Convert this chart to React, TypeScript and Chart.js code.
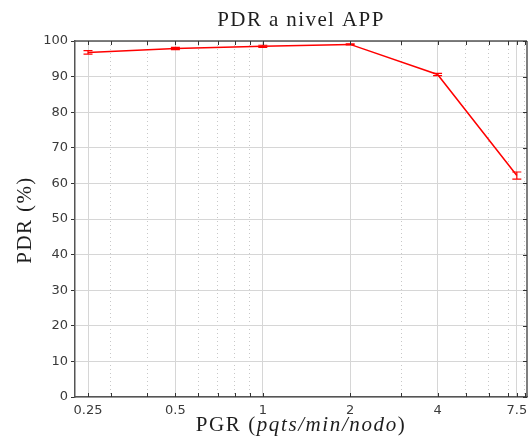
import React, { useEffect, useRef } from 'react';
import { Chart, registerables } from 'chart.js';

Chart.register(...registerables);

// ---- data ----
const xValues = [0.25, 0.5, 1, 2, 4, 7.5];
const pdrValues = [96.8, 97.9, 98.5, 99.05, 90.6, 62.2];
const pdrErrors = [0.5, 0.3, 0.3, 0.15, 0.3, 1.0];
const majorTicks = [0.25, 0.5, 1, 2, 4, 7.5];
const majorTickLabels = ['0.25', '0.5', '1', '2', '4', '7.5'];
const minorTicks = [0.3, 0.4, 0.6, 0.7, 0.8, 0.9, 3, 5, 6, 7, 8];
const yTickValues = [0, 10, 20, 30, 40, 50, 60, 70, 80, 90, 100];
const titleText = 'PDR a nivel APP';
const yLabelText = 'PDR (%)';
const xLabelParts = [
  { text: 'PGR (', italic: false },
  { text: 'pqts/min/nodo', italic: true },
  { text: ')', italic: false },
];

const AXIS_COLOR = '#555555';
const TEXT_COLOR = '#1e1e1e';
const TICK_TEXT = '#3a3a3a';

const isMajor = (v: number) => majorTicks.some((m) => Math.abs(m - v) < 1e-9);

const decorPlugin = {
  id: 'decor',
  afterDatasetsDraw(chart: any) {
    const { ctx, scales } = chart;
    const xs = scales.x;
    const ys = scales.y;
    ctx.save();
    ctx.strokeStyle = '#ff0000';
    ctx.lineWidth = 1.2;
    xValues.forEach((xv, i) => {
      const px = xs.getPixelForValue(xv);
      const top = ys.getPixelForValue(pdrValues[i] + pdrErrors[i]);
      const bot = ys.getPixelForValue(pdrValues[i] - pdrErrors[i]);
      const cap = 4.5;
      ctx.beginPath();
      ctx.moveTo(px, top);
      ctx.lineTo(px, bot);
      ctx.moveTo(px - cap, top);
      ctx.lineTo(px + cap, top);
      ctx.moveTo(px - cap, bot);
      ctx.lineTo(px + cap, bot);
      ctx.stroke();
    });
    ctx.restore();
  },
  afterDraw(chart: any) {
    const { ctx, chartArea, scales } = chart;
    const xs = scales.x;
    const ys = scales.y;
    const { left, right, top, bottom } = chartArea;
    ctx.save();
    ctx.strokeStyle = AXIS_COLOR;
    ctx.lineWidth = 1.5;
    ctx.beginPath();
    ctx.moveTo(left, top);
    ctx.lineTo(right, top);
    ctx.moveTo(right, top);
    ctx.lineTo(right, bottom);
    ctx.stroke();
    ctx.strokeStyle = '#333333';
    ctx.lineWidth = 1;
    ctx.beginPath();
    [...majorTicks, ...minorTicks].forEach((v) => {
      const px = Math.round(xs.getPixelForValue(v)) + 0.5;
      ctx.moveTo(px, bottom);
      ctx.lineTo(px, bottom - 4);
      ctx.moveTo(px, top);
      ctx.lineTo(px, top + 4);
    });
    yTickValues.forEach((v) => {
      const py = Math.round(ys.getPixelForValue(v)) + 0.5;
      ctx.moveTo(right, py);
      ctx.lineTo(right - 4, py);
    });
    ctx.stroke();

    const cx = (left + right) / 2;
    ctx.fillStyle = TEXT_COLOR;
    ctx.font = '21px "Liberation Serif"';
    (ctx as any).letterSpacing = '1.4px';
    ctx.textAlign = 'center';
    ctx.textBaseline = 'alphabetic';
    ctx.fillText(titleText, cx, 26);

    (ctx as any).letterSpacing = '1.6px';
    ctx.textAlign = 'left';
    const fonts = xLabelParts.map((p) =>
      p.italic ? 'italic 21px "Liberation Serif"' : '21px "Liberation Serif"'
    );
    let total = 0;
    const widths = xLabelParts.map((p, i) => {
      ctx.font = fonts[i];
      const w = ctx.measureText(p.text).width;
      total += w;
      return w;
    });
    let sx = cx - total / 2;
    xLabelParts.forEach((p, i) => {
      ctx.font = fonts[i];
      ctx.fillText(p.text, sx, 431);
      sx += widths[i];
    });

    ctx.save();
    ctx.translate(31, 220);
    ctx.rotate(-Math.PI / 2);
    ctx.textAlign = 'center';
    ctx.font = '21px "Liberation Serif"';
    (ctx as any).letterSpacing = '1.4px';
    ctx.fillText(yLabelText, 0, 0);
    ctx.restore();
    ctx.restore();
  },
};

export default function App() {
  const canvasRef = useRef<HTMLCanvasElement | null>(null);

  useEffect(() => {
    if (!canvasRef.current) return;
    const chart = new Chart(canvasRef.current, {
      type: 'line',
      data: {
        datasets: [
          {
            label: 'PDR',
            data: xValues.map((x, i) => ({ x, y: pdrValues[i] })),
            borderColor: '#ff0000',
            backgroundColor: '#ff0000',
            borderWidth: 1.5,
            pointRadius: 0,
            tension: 0,
          },
        ],
      },
      options: {
        animation: false,
        responsive: false,
        maintainAspectRatio: false,
        layout: { padding: { top: 41, right: 1, left: 0, bottom: 0 } },
        plugins: {
          legend: { display: false },
          title: { display: false },
          tooltip: { enabled: false },
        },
        scales: {
          x: {
            type: 'logarithmic',
            min: 0.2255,
            max: 8.13,
            bounds: 'data',
            afterBuildTicks: (scale: any) => {
              scale.ticks = [...majorTicks, ...minorTicks]
                .sort((a, b) => a - b)
                .map((v) => ({ value: v, major: isMajor(v) }));
            },
            afterFit: (scale: any) => {
              scale.height = 50;
              scale.paddingLeft = 0;
              scale.paddingRight = 0;
            },
            ticks: {
              autoSkip: false,
              maxRotation: 0,
              minRotation: 0,
              padding: 6,
              color: TICK_TEXT,
              font: { family: '"DejaVu Sans"', size: 13 },
              callback: (value: any) => {
                const idx = majorTicks.findIndex((m) => Math.abs(m - Number(value)) < 1e-9);
                return idx >= 0 ? majorTickLabels[idx] : '';
              },
            },
            grid: {
              drawTicks: false,
              color: (c: any) => (c.tick && isMajor(c.tick.value) ? '#d6d6d6' : '#c8c8c8'),
              lineWidth: 1,
            },
            border: {
              display: true,
              color: AXIS_COLOR,
              width: 1.5,
              dash: (c: any) => (c.tick && !isMajor(c.tick.value) ? [1, 3] : []),
            } as any,
          },
          y: {
            type: 'linear',
            min: 0,
            max: 100,
            afterBuildTicks: (scale: any) => {
              scale.ticks = yTickValues.map((v) => ({ value: v }));
            },
            afterFit: (scale: any) => {
              scale.width = 75;
              scale.paddingTop = 0;
              scale.paddingBottom = 0;
            },
            ticks: {
              padding: 3,
              color: TICK_TEXT,
              font: { family: '"DejaVu Sans"', size: 13 },
            },
            grid: {
              color: '#d6d6d6',
              lineWidth: 1,
              drawTicks: true,
              tickLength: 4,
              tickColor: '#333333',
            },
            border: { display: true, color: AXIS_COLOR, width: 1.5 },
          },
        },
      },
      plugins: [decorPlugin],
    } as any);
    return () => chart.destroy();
  }, []);

  return (
    <div style={{ position: 'absolute', left: 0, top: 0, width: 528, height: 447, background: '#fff' }}>
      <canvas ref={canvasRef} width={528} height={447} style={{ display: 'block' }} />
    </div>
  );
}
